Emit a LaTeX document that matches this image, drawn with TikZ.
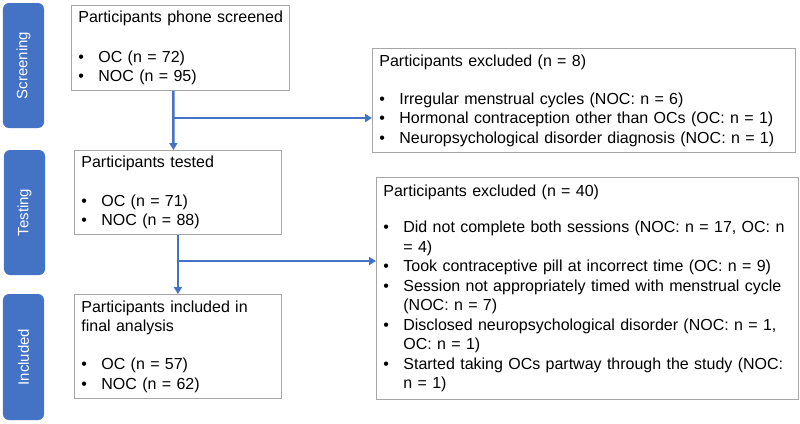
\documentclass[tikz,border=0pt]{standalone}
\usepackage{fontspec}
\setmainfont{Liberation Sans}
\usetikzlibrary{arrows.meta}

\definecolor{stageblue}{HTML}{4472C4}
\definecolor{boxgray}{HTML}{A6A6A6}

\newcommand{\bitem}[1]{\makebox[20bp][l]{\textbullet}#1}
\newcommand{\bcont}[1]{\hspace*{20bp}#1}

\begin{document}
\begin{tikzpicture}[x = 1bp, y = -1bp,
    stage/.style = {fill = stageblue, rounded corners = 6bp, rotate = 90, text = white,
        font = \fontsize{15bp}{18bp}\selectfont, inner sep = 0pt},
    box/.style = {draw = boxgray, line width = 0.8bp, anchor = north west, align = left,
        inner xsep = 7bp, inner ysep = 0pt, font = \fontsize{16bp}{19.5bp}\selectfont},
    flow/.style = {draw = stageblue, line width = 2.4bp, -{Triangle[length = 7bp, width = 8bp]}}]
    \useasboundingbox (0, 0) rectangle (800, 423);

    % stages on the left
    \node [stage, minimum width = 125bp, minimum height = 41bp] (scr) at (23.5, 65.5) {Screening};
    \node [stage, minimum width = 125bp, minimum height = 41bp] (tst) at (24.5, 212.5) {Testing};
    \node [stage, minimum width = 126bp, minimum height = 41bp] (inc) at (23.5, 357) {Included};

    % main column
    \node [box, text width = 204bp, minimum height = 85bp] (screen) at (71, 5) {
        \mbox{Participants phone screened}\\[20.5bp]
        \bitem{OC (n = 72)}\\
        \bitem{NOC (n = 95)}};
    \node [box, text width = 193bp, minimum height = 84bp] (tested) at (74, 150) {
        Participants tested\\[19.5bp]
        \bitem{OC (n = 71)}\\
        \bitem{NOC (n = 88)}};
    \node [box, text width = 193bp, minimum height = 104bp] (incl) at (74, 294) {
        Participants included in\\
        final analysis\\[18.5bp]
        \bitem{OC (n = 57)}\\
        \bitem{NOC (n = 62)}};

    % exclusions
    \node [box, text width = 409bp, minimum height = 104bp] (excl8) at (372, 48) {
        Participants excluded (n = 8)\\[18.5bp]
        \bitem{Irregular menstrual cycles (NOC: n = 6)}\\
        \bitem{Hormonal contraception other than OCs (OC: n = 1)}\\
        \bitem{Neuropsychological disorder diagnosis (NOC: n = 1)}};
    \node [box, text width = 408bp, minimum height = 222bp] (excl40) at (376, 177) {
        Participants excluded (n = 40)\\[16.5bp]
        \bitem{Did not complete both sessions (NOC: n = 17, OC: n}\\
        \bcont{= 4)}\\
        \bitem{Took contraceptive pill at incorrect time (OC: n = 9)}\\
        \bitem{Session not appropriately timed with menstrual cycle}\\
        \bcont{(NOC: n = 7)}\\
        \bitem{Disclosed neuropsychological disorder (NOC: n = 1,}\\
        \bcont{OC: n = 1)}\\
        \bitem{Started taking OCs partway through the study (NOC:}\\
        \bcont{n = 1)}};

    % arrows, the side ones branch off the down ones
    \coordinate (j1) at (173, 118);
    \coordinate (j2) at (177.5, 261);
    \draw [flow] ([xshift = -7bp] screen.south) -- ([xshift = -4.5bp] tested.north);
    \draw [flow] (j1) -- (j1 -| excl8.west);
    \draw [flow] (tested.south) -- (incl.north);
    \draw [flow] (j2) -- (j2 -| excl40.west);
\end{tikzpicture}
\end{document}
